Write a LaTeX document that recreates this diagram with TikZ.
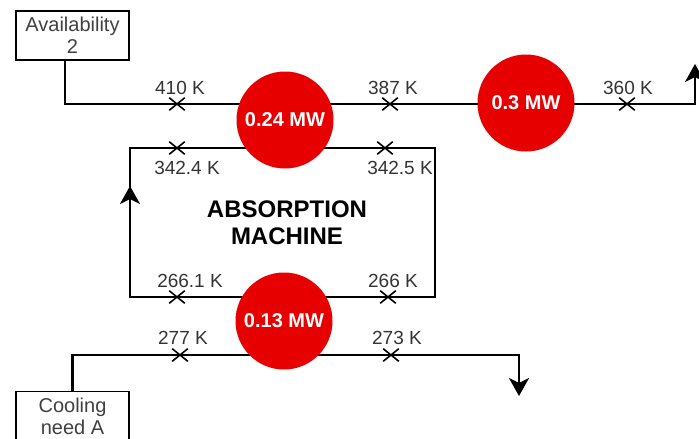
\documentclass[tikz,border=0pt]{standalone}
\usepackage{fontspec}
\setmainfont{Liberation Sans}
\usetikzlibrary{arrows.meta}
\usetikzlibrary{backgrounds}
\usetikzlibrary{shapes.misc}
\definecolor{heatred}{HTML}{E60000}

\begin{document}
\begin{tikzpicture}[x=1pt, y=-1pt,
        pipe/.style={line width=2.8pt},
        flowtip/.style={-{Stealth[length=18pt, width=20pt, inset=5pt]}},
        xmark/.style={cross out, draw, line width=1.6pt, minimum width=14pt, minimum height=11pt, inner sep=0pt},
        temp/.style={text=black!80, font=\fontsize{19}{21}\selectfont, inner sep=0pt},
        heat/.style={circle, fill=heatred, text=white, font=\bfseries\fontsize{20}{22}\selectfont, minimum size=97pt, inner sep=0pt},
        unit/.style={draw, line width=1.1pt, minimum width=113pt, minimum height=49pt, align=center, text=black!75, font=\fontsize{20}{22}\selectfont, inner sep=0pt}]
        \useasboundingbox (0,0) rectangle (699,439);
        \node[unit] (avail) at (72.5,35.5) {Availability\\2};
        \node[unit] (cool) at (72.5,416) {Cooling\\need A};
        \node[heat] (qgen) at (285,120) {0.24 MW};
        \node[heat] (qout) at (526,103) {0.3 MW};
        \node[heat] (qevap) at (284,321) {0.13 MW};
        \node[font=\bfseries\fontsize{24}{27}\selectfont, align=center] (machine) at (287,223) {ABSORPTION\\MACHINE};
        \foreach \name/\pos/\side/\dist/\dx/\txt in {t410/{177,104}/above/3/3/410 K, t387/{390,104}/above/3/3/387 K, t360/{627,104}/above/3/1/360 K,
                t342a/{177,148}/below/7/10/342.4 K, t342b/{385,148}/below/7/15/342.5 K,
                t266a/{177,297}/above/3/13/266.1 K, t266b/{388,297}/above/3/5/266 K,
                t277/{180,355}/above/4/3/277 K, t273/{391,355}/above/4/6/273 K} {
            \node[xmark, label={[temp, label distance=\dist pt, xshift=\dx pt]\side:\txt}] (\name) at (\pos) {};
        }
        \coordinate (topend) at (695,64);
        \coordinate (botend) at (519,396);
        \coordinate (bl) at (130,297);\coordinate (tl) at (130,148);\coordinate (tr) at (435,148);\coordinate (br) at (435,297);
        \coordinate (looptip) at (130,186);
        \begin{scope}[on background layer]
            \draw [pipe, flowtip] ([xshift=-7.5pt]avail.south) |- (t410.center) -- (t387.center) -- (t360.center) -| (topend);
            \draw [pipe] (bl) -- (tl) -- (t342a.center) -- (t342b.center) -- (tr) -- (br) -- (t266b.center) -- (t266a.center) -- cycle;
            \draw [pipe, flowtip] (bl) -- (looptip);
            \draw [pipe, flowtip] (cool.north) |- (t277.center) -- (t273.center) -| (botend);
        \end{scope}
    \end{tikzpicture}
\end{document}
